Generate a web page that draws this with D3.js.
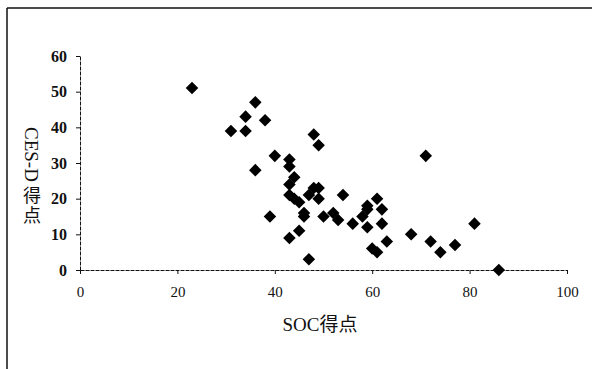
<!DOCTYPE html>
<html>
<head>
<meta charset="utf-8">
<script src="https://cdn.jsdelivr.net/npm/d3@7"></script>
<style>
  body { margin: 0; background: #fff; }
</style>
</head>
<body>
<script>
var w = 592;
var h = 369;

// SOC score / CES-D score pairs
var soc = [23, 31, 34, 34, 36, 38, 36, 40, 39, 43, 43, 44, 43, 43, 44, 45, 43, 45, 46, 46,
  47, 48, 49, 48, 49, 47, 49, 50, 52, 53, 54, 56, 58, 59, 59, 61, 62, 62, 63, 60,
  61, 68, 72, 74, 77, 81, 86, 71, 59];
var cesd = [51, 39, 43, 39, 47, 42, 28, 32, 15, 31, 29, 26, 24, 21, 20, 19, 9, 11, 16, 15,
  3, 38, 35, 23, 23, 21, 20, 15, 16, 14, 21, 13, 15, 18, 12, 20, 17, 13, 8, 6,
  5, 10, 8, 5, 7, 13, 0, 32, 17];

var xTicks = [0, 20, 40, 60, 80, 100];
var yTicks = [0, 10, 20, 30, 40, 50, 60];

var data = soc.map(function (d, i) {
  return { x: d, y: cesd[i] };
});

var x = d3.scaleLinear().domain([0, 100]).range([80, 567]);
var y = d3.scaleLinear().domain([0, 60]).range([270, 56]);

var svg = d3.select("body").append("svg").attr("width", w).attr("height", h);

// outer frame (only top and left edges visible)
svg.append("line").attr("x1", 7).attr("y1", 8).attr("x2", w).attr("y2", 8)
  .attr("stroke", "#111").attr("stroke-width", 1.5);
svg.append("line").attr("x1", 7).attr("y1", 8).attr("x2", 7).attr("y2", h)
  .attr("stroke", "#111").attr("stroke-width", 1.5);

var font = "'Liberation Serif', 'Noto Sans CJK JP', serif";

// x axis
var xAxis = svg.append("g")
  .attr("transform", "translate(0," + y(0) + ")")
  .call(d3.axisBottom(x).tickValues(xTicks).tickSize(4).tickPadding(12).tickSizeOuter(0));

// y axis
var yAxis = svg.append("g")
  .attr("transform", "translate(" + x(0) + ",0)")
  .call(d3.axisLeft(y).tickValues(yTicks).tickSize(4).tickPadding(9).tickSizeOuter(0));

[xAxis, yAxis].forEach(function (g) {
  g.attr("font-family", null);
  g.select(".domain").attr("stroke", "#111").attr("stroke-dasharray", "4,1");
  g.selectAll(".tick line").attr("stroke", "#111");
  g.selectAll("text").style("font-family", font).style("font-size", "15px").attr("fill", "#111");
});
yAxis.selectAll("text").style("font-weight", "bold").style("font-size", "16px");

// points
var diamond = d3.symbol().type(d3.symbolDiamond2).size(100);
svg.selectAll("path.pt")
  .data(data)
  .enter()
  .append("path")
  .attr("class", "pt")
  .attr("d", diamond)
  .attr("transform", function (d) {
    return "translate(" + x(d.x) + "," + y(d.y) + ")";
  })
  .attr("fill", "#000");

// axis titles
svg.append("text")
  .text("SOC得点")
  .attr("x", 320)
  .attr("y", 331)
  .attr("text-anchor", "middle")
  .style("font-family", font)
  .style("font-size", "19px")
  .attr("fill", "#111");

// vertical y title: latin part rotated, kanji upright
var yt = svg.append("g").attr("transform", "translate(32,0)");
var lat = yt.append("text")
  .text("CES-D")
  .attr("transform", "translate(-7,127) rotate(90)")
  .style("font-family", font)
  .style("font-size", "19px")
  .attr("fill", "#111");
var len = lat.node().getComputedTextLength();
["得", "点"].forEach(function (c, i) {
  yt.append("text")
    .text(c)
    .attr("x", 0)
    .attr("y", 127 + len + 20 + i * 20)
    .attr("text-anchor", "middle")
    .style("font-family", font)
    .style("font-size", "18px")
    .attr("fill", "#111");
});
</script>
</body>
</html>
